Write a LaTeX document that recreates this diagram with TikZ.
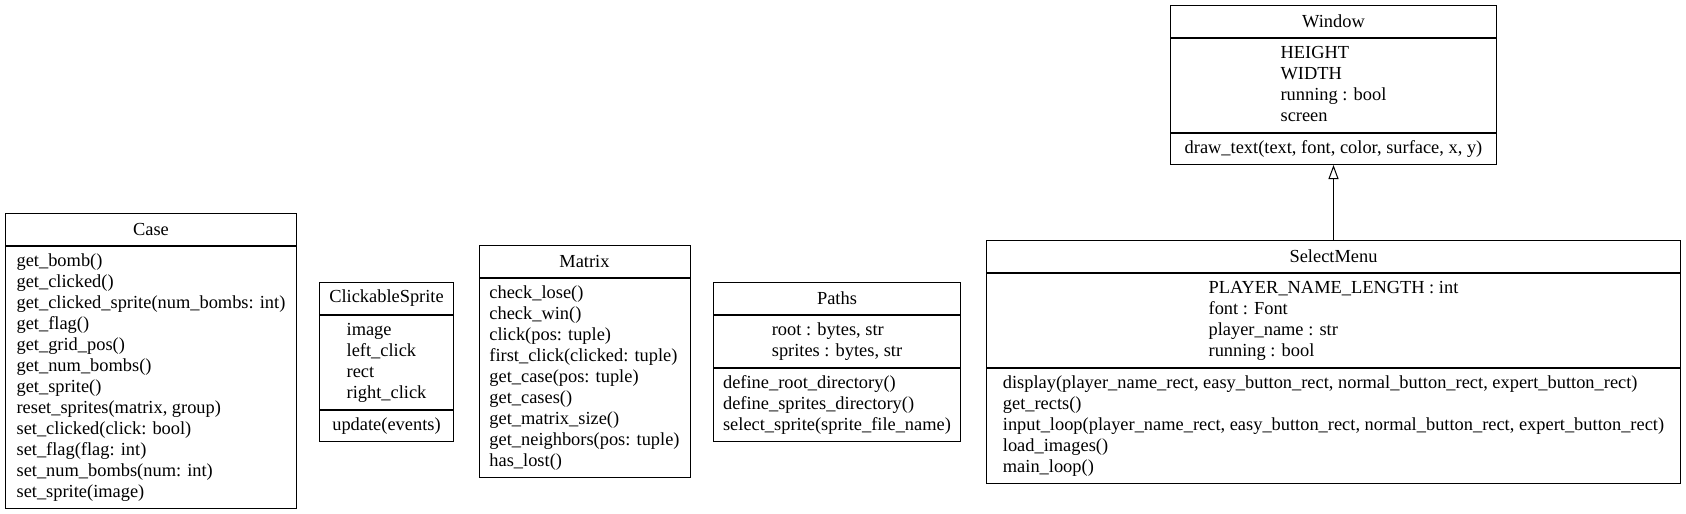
\documentclass[tikz,border=0pt]{standalone}
\usepackage{fontspec}
\setmainfont{Liberation Serif}
\usetikzlibrary{arrows.meta}
\tikzset{
  umlfont/.style={font=\fontsize{13.8}{15.75}\selectfont},
  hdr/.style 2 args={draw=black, line width=0.75pt, minimum width=#1*0.75pt,
    minimum height=#2*0.75pt, inner sep=0pt, align=center, umlfont, anchor=north west},
  comp/.style 2 args={draw=black, line width=0.75pt, minimum width=#1*0.75pt,
    minimum height=#2*0.75pt, inner sep=0pt, align=left, umlfont, anchor=north},
  inherit/.style={draw=black, line width=0.75pt, -{Triangle[open,length=10.5pt,width=7.5pt]}}
}
\begin{document}
\begin{tikzpicture}[x=0.75pt,y=-0.75pt]
\useasboundingbox[fill=white] (0,0) rectangle (1686,514);
% Case
\node[hdr={291}{32}] (caseh) at (5,213) {Case};
\node[comp={291}{262}] (casem) at (caseh.south) {\strut get\_bomb()\\
\strut get\_clicked()\\
\strut get\_clicked\_sprite(num\_bombs: int)\\
\strut get\_flag()\\
\strut get\_grid\_pos()\\
\strut get\_num\_bombs()\\
\strut get\_sprite()\\
\strut reset\_sprites(matrix, group)\\
\strut set\_clicked(click: bool)\\
\strut set\_flag(flag: int)\\
\strut set\_num\_bombs(num: int)\\
\strut set\_sprite(image)};
% ClickableSprite
\node[hdr={134}{32}] (csh) at (319,282) {ClickableSprite};
\node[comp={134}{94}] (csa) at (csh.south) {\strut image\\
\strut left\_click\\
\strut rect\\
\strut right\_click};
\node[comp={134}{31}] (csm) at (csa.south) {\strut update(events)};
% Matrix
\node[hdr={211}{32}] (mxh) at (478.5,245) {Matrix};
\node[comp={211}{199}] (mxm) at (mxh.south) {\strut check\_lose()\\
\strut check\_win()\\
\strut click(pos: tuple)\\
\strut first\_click(clicked: tuple)\\
\strut get\_case(pos: tuple)\\
\strut get\_cases()\\
\strut get\_matrix\_size()\\
\strut get\_neighbors(pos: tuple)\\
\strut has\_lost()};
% Paths
\node[hdr={247}{32}] (pth) at (713,282) {Paths};
\node[comp={247}{52}] (pta) at (pth.south) {\strut root : bytes, str\\
\strut sprites : bytes, str};
\node[comp={247}{73}] (ptm) at (pta.south) {\strut define\_root\_directory()\\
\strut define\_sprites\_directory()\\
\strut select\_sprite(sprite\_file\_name)};
% SelectMenu
\node[hdr={694}{32}] (smh) at (986,240) {SelectMenu};
\node[comp={694}{94}] (sma) at (smh.south) {\strut PLAYER\_NAME\_LENGTH : int\\
\strut font : Font\\
\strut player\_name : str\\
\strut running : bool};
\node[comp={694}{115}] (smm) at (sma.south) {\strut display(player\_name\_rect, easy\_button\_rect, normal\_button\_rect, expert\_button\_rect)\\
\strut get\_rects()\\
\strut input\_loop(player\_name\_rect, easy\_button\_rect, normal\_button\_rect, expert\_button\_rect)\\
\strut load\_images()\\
\strut main\_loop()};
% Window
\node[hdr={326}{32}] (winh) at (1170,5) {Window};
\node[comp={326}{94}] (wina) at (winh.south) {\strut HEIGHT\\
\strut WIDTH\\
\strut running : bool\\
\strut screen};
\node[comp={326}{31}] (winm) at (wina.south) {\strut draw\_text(text, font, color, surface, x, y)};
% inheritance
\draw[inherit] (smh.north) -- (winm.south);
\end{tikzpicture}
\end{document}
